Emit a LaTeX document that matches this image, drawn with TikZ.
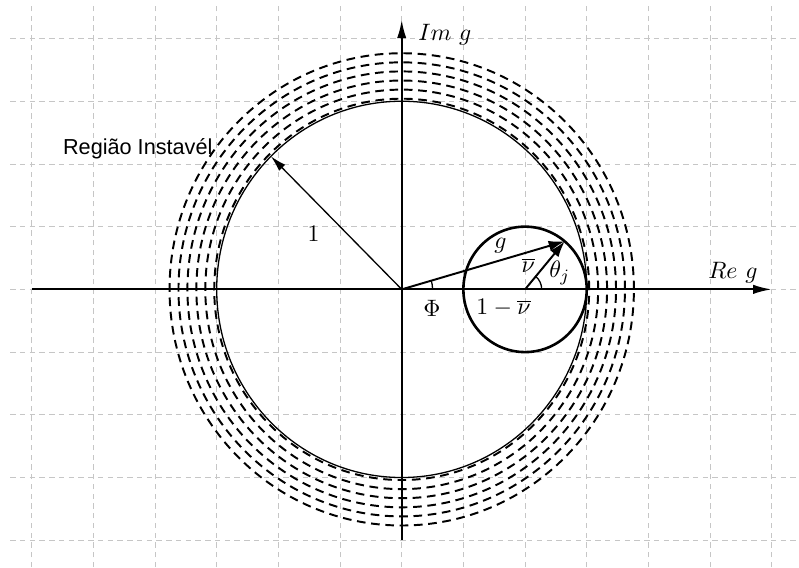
\documentclass[tikz,border=0pt]{standalone}
\usepackage{fontspec}
\newfontfamily\regionfont{Liberation Sans}
\usetikzlibrary{arrows.meta}

\begin{document}
\begin{tikzpicture}[x=1cm, y=1.017cm, font=\fontsize{11}{13}\selectfont]
    \tikzset{grid line/.style={gray!45, line width=0.4pt, dash pattern=on 2.5pt off 2pt},
             axis/.style={line width=0.9pt, -{Latex[length=3mm,width=1.5mm]}},
             unit circle/.style={line width=0.6pt},
             unstable/.style={line width=0.9pt, dash pattern=on 4pt off 2.6pt},
             small circle/.style={line width=1.2pt},
             vector/.style={line width=0.9pt, -{Latex[length=2.6mm,width=1.7mm]}},
             radius arrow/.style={line width=0.6pt, -{Latex[length=2.6mm,width=1.4mm]}},
             angle mark/.style={line width=0.6pt}}

    % Fix the page to the picture size
    \useasboundingbox (-6.514,-4.429) rectangle (6.442,4.614);

    % Background grid
    \foreach \gx in {-6,...,6}
        \draw[grid line] (\gx,-4.43) -- (\gx,4.53);
    \foreach \gy in {-4,...,4}
        \draw[grid line] (-6.35,\gy) -- (6.45,\gy);

    % Points used by the figure
    \coordinate (O) at (0,0);
    \coordinate (xl) at (-6,0);
    \coordinate (xr) at (6,0);
    \coordinate (yb) at (0,-4);
    \coordinate (yt) at (0,4.3);
    \coordinate (C) at (2,0);
    \coordinate (P) at (2.643,0.766);
    \coordinate (R) at (135:3);

    % Unstable region: dashed circles outside the unit circle
    \foreach \r in {3.04,3.185,3.33,3.475,3.62,3.765}
        \draw[unstable] (O) circle (\r);

    % Unit circle and amplification circle
    \draw[unit circle] (O) circle (3);
    \draw[small circle] (C) circle (1);

    % Axes
    \draw[axis] (xl) -- (xr);
    \draw[axis] (yb) -- (yt);
    \node (re) at (5.37,0.26) {$Re\ g$};
    \node (im) at (0.70,4.06) {$Im\ g$};

    % Radius of the unit circle
    \draw[radius arrow] (O) -- (R);
    \node (one) at (-1.43,0.89) {$1$};

    % Vectors g and nu
    \draw[vector] (O) -- (P);
    \draw[vector] (C) -- (P);
    \node (g) at (1.6,0.70) {$g$};
    \node (nu) at (2.05,0.39) {$\overline{\nu}$};

    % Angles
    \draw[angle mark] (O) ++(0.5,0) arc[start angle=0, end angle=16.2, radius=0.5];
    \draw[angle mark] (C) ++(0.27,0) arc[start angle=0, end angle=50, radius=0.27];
    \node (phi) at (0.49,-0.30) {$\Phi$};
    \node (theta) at (2.56,0.26) {$\theta_j$};
    \node (center) at (1.65,-0.30) {$1-\overline{\nu}$};

    % Region label
    \node (region) at (-4.28,2.24) {\fontsize{10}{12}\selectfont\regionfont Região Instavél};

\end{tikzpicture}
\end{document}
